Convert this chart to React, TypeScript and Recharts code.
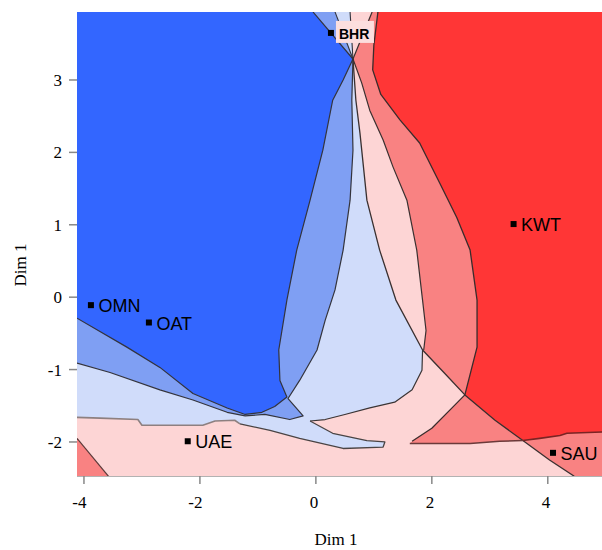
import React from 'react';
import { ScatterChart, Scatter, XAxis, YAxis } from 'recharts';

type P = [number, number];

// sample positions
const names = ['BHR', 'KWT', 'OMN', 'OAT', 'UAE', 'SAU'];
const dimX = [0.26, 3.41, -3.88, -2.88, -2.21, 4.09];
const dimY = [3.65, 1.01, -0.11, -0.35, -1.99, -2.15];

const xTicks = [-4, -2, 0, 2, 4];
const yTicks = [-2, -1, 0, 1, 2, 3];

// contour boundaries (x = Dim 1, y = Dim 1)
const crossing: P = [0.64, 3.29];
const darkBlueEdge: P[] = [
  [-0.05, 3.94], crossing, [0.47, 3.0], [0.29, 2.72], [0.12, 2.03], [-0.1, 1.34],
  [-0.33, 0.65], [-0.5, -0.04], [-0.64, -0.73], [-0.62, -1.15], [-0.5, -1.38],
  [-0.71, -1.51], [-0.93, -1.59], [-1.22, -1.62], [-1.53, -1.53], [-2.12, -1.33],
  [-2.69, -0.97], [-3.26, -0.69], [-4.12, -0.29],
];
const midBlueWedge: P[] = [[0.33, 3.94], crossing];
const lightBlueWedge: P[] = [[0.59, 3.94], crossing];
const midBlueEdge: P[] = [
  crossing, [0.62, 2.72], [0.64, 2.03], [0.59, 1.34], [0.47, 0.65], [0.33, 0.1],
  [0.16, -0.32], [0.02, -0.73], [-0.28, -1.15], [-0.48, -1.4], [-0.22, -1.64],
  [-0.45, -1.69], [-0.88, -1.62], [-1.22, -1.64], [-1.53, -1.59], [-2.12, -1.42],
  [-2.69, -1.28], [-3.55, -1.04], [-4.12, -0.91],
];
const diagEdge: P[] = [
  crossing, [0.69, 2.72], [0.76, 2.27], [0.88, 1.34], [1.1, 0.65], [1.38, -0.04],
  [1.84, -0.73], [2.22, -1.05], [2.57, -1.35], [3.09, -1.7], [3.57, -1.98],
  [4.03, -2.25], [4.45, -2.47], [4.5, -2.55],
];
const dropBottom: P[] = [
  [1.84, -0.73], [1.83, -1.01], [1.66, -1.28], [1.36, -1.45], [0.93, -1.53],
  [0.5, -1.62], [0.16, -1.69], [-0.1, -1.71],
];
const tongueEdge: P[] = [
  [-0.1, -1.71], [0.29, -1.88], [0.88, -1.98], [1.19, -2.0], [1.16, -2.07],
  [0.47, -2.09], [-0.28, -1.95], [-0.79, -1.84], [-1.31, -1.75],
];
const pinkEdge: P[] = [
  [-1.31, -1.75], [-1.4, -1.7], [-1.74, -1.71], [-1.95, -1.77], [-3.0, -1.77],
  [-3.07, -1.69], [-3.72, -1.67], [-4.12, -1.66],
];
const midRedEdge: P[] = [
  [0.97, 3.94], crossing, [0.79, 2.96], [0.93, 2.58], [1.16, 2.17], [1.33, 1.8],
  [1.57, 1.34], [1.74, 0.65], [1.84, -0.04], [1.9, -0.46], [1.86, -0.73],
];
const redEdge: P[] = [
  [1.07, 3.94], [1.0, 3.48], [0.98, 3.14], [1.12, 2.8], [1.45, 2.45], [1.79, 2.13],
  [2.14, 1.57], [2.43, 1.1], [2.66, 0.65], [2.78, -0.04], [2.78, -0.69], [2.57, -1.35],
  [2.31, -1.56], [2.0, -1.81], [1.66, -1.99],
];
const flatEdge: P[] = [[1.62, -2.02], [2.66, -2.02], [3.17, -1.99], [3.57, -1.98]];
const redBottom: P[] = [[3.57, -1.98], [3.86, -1.95], [4.21, -1.91], [4.33, -1.88], [5.0, -1.86]];
const cornerEdge: P[] = [[-4.12, -1.95], [-3.55, -2.5]];

const PINK = '#fdd5d5';
const MID_RED = '#f98282';
const RED = '#ff3636';
const LIGHT_BLUE = '#d0dcfa';
const MID_BLUE = '#7f9ff3';
const DARK_BLUE = '#3366ff';

const regions: { fill: string; pts: P[] }[] = [
  { fill: PINK, pts: [[-4.2, 4.0], [5.0, 4.0], [5.0, -2.55], [-4.2, -2.55]] },
  { fill: MID_RED, pts: [[-4.2, -1.93], ...cornerEdge, [-4.2, -2.55]] },
  {
    fill: MID_RED,
    pts: [[0.97, 4.0], ...midRedEdge, ...diagEdge.slice(6, 9), ...redEdge.slice(11), ...flatEdge,
      ...diagEdge.slice(10), [5.0, -2.55], [5.0, 4.0]],
  },
  { fill: RED, pts: [[1.07, 4.0], ...redEdge.slice(0, 12), ...diagEdge.slice(9, 11), ...redBottom, [5.0, 4.0]] },
  {
    fill: LIGHT_BLUE,
    pts: [[-4.2, 4.0], [0.59, 4.0], ...lightBlueWedge, ...diagEdge.slice(0, 7), ...dropBottom,
      ...tongueEdge, ...pinkEdge, [-4.2, -1.66]],
  },
  { fill: MID_BLUE, pts: [[-4.2, 4.0], [0.33, 4.0], ...midBlueWedge, ...midBlueEdge, [-4.2, -0.91]] },
  { fill: DARK_BLUE, pts: [[-4.2, 4.0], [-0.05, 4.0], ...darkBlueEdge, [-4.2, -0.29]] },
];

const contours: { stroke: string; width: number; pts: P[] }[] = [
  { stroke: '#34343c', width: 1.2, pts: darkBlueEdge },
  { stroke: '#34343c', width: 1.1, pts: midBlueWedge },
  { stroke: '#34343c', width: 1.1, pts: lightBlueWedge },
  { stroke: '#34343c', width: 1.2, pts: midBlueEdge },
  { stroke: '#3a3030', width: 1.3, pts: diagEdge },
  { stroke: '#3a3434', width: 1.2, pts: dropBottom },
  { stroke: '#4a4444', width: 1.3, pts: tongueEdge },
  { stroke: '#8d8080', width: 1.6, pts: pinkEdge },
  { stroke: '#3a3030', width: 1.2, pts: midRedEdge },
  { stroke: '#3a2c2c', width: 1.3, pts: redEdge },
  { stroke: '#6b3a3a', width: 1.5, pts: flatEdge },
  { stroke: '#7a2424', width: 1.6, pts: redBottom },
  { stroke: '#5a3a3a', width: 1.2, pts: cornerEdge },
];

const SERIF = '"Liberation Serif", "DejaVu Serif", serif';
const SANS = '"Liberation Sans", Arial, sans-serif';
const boxed = ['BHR'];

const toData = (pts: P[]) => pts.map(([x, y]) => ({ x, y }));
const pathOf = (pts: { x: number; y: number }[], close: boolean) =>
  pts.map((p, i) => `${i ? 'L' : 'M'}${p.x},${p.y}`).join('') + (close ? 'Z' : '');

const samples = names.map((name, i) => ({ name, x: dimX[i], y: dimY[i] }));

const Sample = (props: any) => {
  const { cx, cy, payload } = props;
  const isBoxed = boxed.includes(payload.name);
  return (
    <g>
      {isBoxed && <rect x={cx + 5} y={cy - 12} width={38} height={22} fill="#fcdede" />}
      <rect x={cx - 3} y={cy - 3} width={6} height={6} fill="#000" />
      <text
        x={cx + (isBoxed ? 8 : 7.5)}
        y={cy + 1}
        dominantBaseline="central"
        fontFamily={SANS}
        fontSize={isBoxed ? 14 : 18}
        fontWeight={isBoxed ? 'bold' : 'normal'}
        fill="#000"
      >
        {payload.name}
      </text>
    </g>
  );
};

const XTick = (props: any) => {
  const { x, y, payload } = props;
  return (
    <text x={x + 2.5} y={y} dy="0.71em" textAnchor="end" fontFamily={SERIF} fontSize={17} fill="#000">
      {payload.value}
    </text>
  );
};

export default function App() {
  return (
    <div style={{ position: 'absolute', left: 0, top: 0, background: '#fff' }}>
      <ScatterChart width={602} height={550} margin={{ top: 12, right: 0, bottom: 0, left: 0 }}>
        <XAxis
          type="number"
          dataKey="x"
          domain={[-4.12, 4.935]}
          ticks={xTicks}
          allowDataOverflow
          height={74}
          tickSize={8}
          tickMargin={12}
          tickLine={{ stroke: '#888', strokeWidth: 1.5 }}
          axisLine={{ stroke: '#999', strokeWidth: 1.5 }}
          tick={<XTick />}
          label={() => (
            <text x={336} y={545} textAnchor="middle" fontFamily={SERIF} fontSize={17} fill="#000">
              Dim 1
            </text>
          )}
        />
        <YAxis
          type="number"
          dataKey="y"
          domain={[-2.47, 3.939]}
          ticks={yTicks}
          allowDataOverflow
          width={77}
          tickSize={8}
          tickMargin={7}
          tickLine={{ stroke: '#888', strokeWidth: 1.5 }}
          axisLine={false}
          tick={{ fontFamily: SERIF, fontSize: 17, fill: '#000' }}
          label={() => (
            <text
              x={20}
              y={265}
              transform="rotate(-90 20 265)"
              textAnchor="middle"
              dominantBaseline="central"
              fontFamily={SERIF}
              fontSize={17}
              fill="#000"
            >
              Dim 1
            </text>
          )}
        />
        {regions.map((r, i) => (
          <Scatter
            key={`region-${i}`}
            data={toData(r.pts)}
            isAnimationActive={false}
            shape={() => <g />}
            line={(p: any) => <path d={pathOf(p.points, true)} fill={r.fill} stroke="none" />}
          />
        ))}
        {contours.map((c, i) => (
          <Scatter
            key={`contour-${i}`}
            data={toData(c.pts)}
            isAnimationActive={false}
            shape={() => <g />}
            line={(p: any) => (
              <path d={pathOf(p.points, false)} fill="none" stroke={c.stroke} strokeWidth={c.width} strokeLinejoin="round" />
            )}
          />
        ))}
        <Scatter data={samples} isAnimationActive={false} shape={<Sample />} />
      </ScatterChart>
    </div>
  );
}
